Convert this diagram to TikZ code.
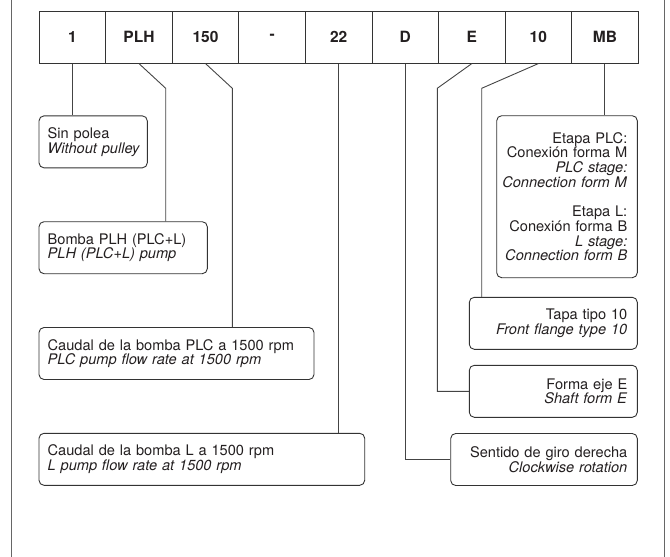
\documentclass[tikz,border=0pt]{standalone}
\usepackage{fontspec}
\setmainfont{TeX Gyre Heros}
\definecolor{txt}{HTML}{231F20}
\definecolor{ln}{HTML}{333333}
\definecolor{cn}{HTML}{444444}
\definecolor{fr}{HTML}{666666}
\newcommand{\rline}[1]{\makebox[\hsize][r]{#1}}
\newcommand{\lline}[1]{\makebox[\hsize][l]{#1}}
\begin{document}
\begin{tikzpicture}[x=1pt,y=-1pt,
  font=\fontsize{14.6}{14.7}\selectfont, text=txt,
  cell/.style={draw=ln, line width=0.9pt, minimum width=66.56pt, minimum height=52pt,
    inner sep=0pt, anchor=north west, font=\fontsize{15.5}{16}\selectfont\bfseries},
  lbox/.style={draw=ln, line width=0.9pt, rounded corners=5pt, inner xsep=8.7pt,
    inner ysep=0pt, align=left, minimum height=52pt},
  rbox/.style={draw=ln, line width=0.9pt, rounded corners=5pt, inner xsep=10pt,
    inner ysep=0pt, align=right, minimum height=52pt},
  conn/.style={draw=cn, line width=0.9pt},
  framel/.style={draw=fr, line width=1.5pt}]
\useasboundingbox (0,0) rectangle (670,557);
% frame
\draw[framel] (11.3,0) -- (11.3,557);
\draw[framel] (664.3,0) -- (664.3,557);
% header
\node[cell] (h1) at (38.7,10.7) {1};
\node[cell] (h2) at (105.26,10.7) {PLH};
\node[cell] (h3) at (171.82,10.7) {150};
\node[cell] (h4) at (238.38,10.7) {-};
\node[cell] (h5) at (304.94,10.7) {22};
\node[cell] (h6) at (371.5,10.7) {D};
\node[cell] (h7) at (438.06,10.7) {E};
\node[cell] (h8) at (504.62,10.7) {10};
\node[cell] (h9) at (571.18,10.7) {MB};
% boxes
\node[lbox, text width=90.9pt] (sin) at (93.15,141.85)
  {Sin polea\\ \lline{\textit{Without pulley}}};
\node[lbox, text width=150.9pt] (bomba) at (123.15,247.7)
  {Bomba PLH (PLC+L)\\ \textit{PLH (PLC+L) pump}};
\node[lbox, text width=257.6pt] (cplc) at (176.5,353.5)
  {Caudal de la bomba PLC a 1500 rpm\\ \textit{PLC pump flow rate at 1500 rpm}};
\node[lbox, text width=308.3pt] (cl) at (201.85,459.3)
  {Caudal de la bomba L a 1500 rpm\\ \textit{L pump flow rate at 1500 rpm}};
\node[rbox, text width=120.6pt, minimum height=162pt] (etapa) at (567,196.7)
  {Etapa PLC:\\ \rline{Conexión forma M}\\ \textit{PLC stage:}\\ \rline{\textit{Connection form M}}\\[14.7pt]
   Etapa L:\\ \rline{Conexión forma B}\\ \textit{L stage:}\\ \rline{\textit{Connection form B}}};
\node[rbox, text width=148pt] (tapa) at (553.3,323.3)
  {Tapa tipo 10\\ \textit{Front flange type 10}};
\node[rbox, text width=148pt] (forma) at (553.3,391.3)
  {Forma eje E\\ \textit{Shaft form E}};
\node[rbox, text width=166.6pt] (sentido) at (544,459.5)
  {Sentido de giro derecha\\ \textit{Clockwise rotation}};
% bend points
\coordinate (k2) at (165.7,88.3);
\coordinate (k3) at (232.3,88.3);
\coordinate (k7) at (437.3,88.3);
\coordinate (k8) at (481.7,88.3);
% connectors
\draw[conn] (h1.south) -- (h1.south |- sin.north);
\draw[conn] (h2.south) -- (k2) -- (k2 |- bomba.north);
\draw[conn] (h3.south) -- (k3) -- (k3 |- cplc.north);
\draw[conn] (h5.south) -- (h5.south |- cl.north);
\draw[conn] (h6.south) -- (h6.south |- sentido.west) -- (sentido.west);
\draw[conn] (h7.south) -- (k7) -- (k7 |- forma.west) -- (forma.west);
\draw[conn] (h8.south) -- (k8) -- (k8 |- tapa.north);
\draw[conn] (h9.south) -- (h9.south |- etapa.north);
\end{tikzpicture}
\end{document}
